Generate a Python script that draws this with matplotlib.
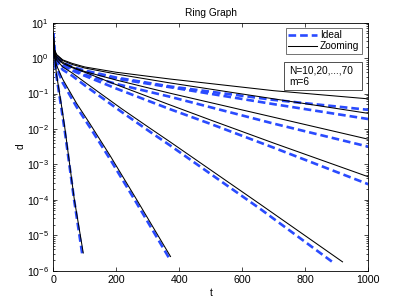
import matplotlib
matplotlib.use("Agg")
import matplotlib.pyplot as plt
from matplotlib.patches import Rectangle
from matplotlib.ticker import LogFormatterSciNotation, NullFormatter, LogLocator
import numpy as np

plt.rcParams['font.family'] = ['Liberation Sans', 'DejaVu Sans']
plt.rcParams['mathtext.fontset'] = 'custom'
plt.rcParams['mathtext.rm'] = 'Liberation Sans'

# N values
N_values = [10, 20, 30, 40, 50, 60, 70]

# Ideal curves: t and log10(d)
ideal_t = {
    10: [0, 3, 10, 27, 37, 66, 93],
    20: [0, 3, 10, 30, 74, 116, 180, 265, 370],
    30: [0, 3, 10, 30, 60, 100, 217, 307, 370, 656, 890],
    40: [0, 3, 10, 30, 60, 100, 200, 370, 500, 700, 1000],
    50: [0, 3, 10, 30, 60, 100, 200, 370, 700, 1000],
    60: [0, 3, 10, 30, 60, 100, 200, 370, 700, 1000],
    70: [0, 3, 10, 30, 60, 100, 200, 370, 700, 1000],
}
ideal_logd = {
    10: [0.55, 0.05, -0.5, -1.5, -2.1, -4.0, -5.6],
    20: [0.6, 0.1, -0.25, -0.7, -1.38, -1.95, -2.85, -4.1, -5.68],
    30: [0.65, 0.15, -0.1, -0.33, -0.5, -0.77, -1.52, -2.08, -2.46, -4.25, -5.78],
    40: [0.7, 0.15, -0.05, -0.22, -0.35, -0.5, -0.86, -1.44, -1.86, -2.53, -3.56],
    50: [0.7, 0.2, 0.0, -0.2, -0.33, -0.47, -0.73, -1.09, -1.85, -2.50],
    60: [0.7, 0.2, 0.05, -0.15, -0.28, -0.38, -0.58, -0.82, -1.30, -1.72],
    70: [0.7, 0.2, 0.05, -0.12, -0.25, -0.35, -0.55, -0.80, -1.18, -1.46],
}

# Zooming curves: t and log10(d)
zoom_t = {
    10: [0, 3, 10, 27, 37, 66, 95],
    20: [0, 3, 10, 30, 74, 116, 180, 265, 372],
    30: [0, 3, 10, 30, 60, 100, 217, 307, 370, 656, 918],
    40: [0, 3, 10, 30, 60, 100, 200, 370, 500, 700, 1000],
    50: [0, 3, 10, 30, 60, 100, 200, 370, 700, 1000],
    60: [0, 3, 10, 30, 60, 100, 200, 370, 700, 1000],
    70: [0, 3, 10, 30, 60, 100, 200, 370, 700, 1000],
}
zoom_logd = {
    10: [0.55, 0.1, -0.45, -1.4, -2.0, -3.95, -5.5],
    20: [0.6, 0.15, -0.2, -0.6, -1.28, -1.85, -2.75, -4.0, -5.6],
    30: [0.65, 0.2, -0.05, -0.25, -0.42, -0.68, -1.43, -1.98, -2.36, -4.12, -5.75],
    40: [0.7, 0.2, 0.0, -0.15, -0.27, -0.4, -0.75, -1.32, -1.75, -2.4, -3.35],
    50: [0.7, 0.25, 0.05, -0.12, -0.25, -0.38, -0.62, -0.99, -1.67, -2.29],
    60: [0.7, 0.25, 0.1, -0.07, -0.18, -0.28, -0.45, -0.70, -1.15, -1.56],
    70: [0.7, 0.25, 0.1, -0.05, -0.15, -0.25, -0.40, -0.59, -0.92, -1.15],
}

x_ticks = [0, 200, 400, 600, 800, 1000]
y_ticks = [1e-6, 1e-5, 1e-4, 1e-3, 1e-2, 1e-1, 1e0, 1e1]
FS = 7.3     # text size
TFS = 7.7    # tick label size

fig = plt.figure(figsize=(4.07, 3.06), dpi=100)
ax = fig.add_axes([0.131, 0.1154, 0.774, 0.8105])

blue = '#2a4bff'
for i, n in enumerate(N_values):
    ax.semilogy(ideal_t[n], 10.0 ** np.array(ideal_logd[n]), color=blue,
                linestyle=(0, (2.9, 1.5)), linewidth=1.9,
                label='Ideal' if i == 0 else None, zorder=2)
for i, n in enumerate(N_values):
    ax.semilogy(zoom_t[n], 10.0 ** np.array(zoom_logd[n]), color='black',
                linewidth=0.75, label='Zooming' if i == 0 else None, zorder=3)

ax.set_xlim(0, 1000)
ax.set_ylim(1e-6, 1e1)
ax.set_xticks(x_ticks)
ax.set_xticklabels([str(v) for v in x_ticks])
ax.set_yticks(y_ticks)
ax.yaxis.set_major_formatter(LogFormatterSciNotation())
ax.yaxis.set_minor_locator(LogLocator(base=10, subs=np.arange(2, 10)))
ax.yaxis.set_minor_formatter(NullFormatter())
ax.set_ylim(1e-6, 1e1)
ax.tick_params(axis='both', which='both', direction='in', top=True, right=True,
               labelsize=TFS, length=3, width=0.5, pad=3)
ax.tick_params(which='minor', length=1.6)
for s in ax.spines.values():
    s.set_linewidth(0.6)

ax.set_title('Ring Graph', fontsize=FS, pad=5)
ax.set_xlabel('t', fontsize=FS, labelpad=2)
ax.set_ylabel('d', fontsize=FS, labelpad=1)

leg = ax.legend(loc='upper right', fontsize=FS, handlelength=2.8,
                frameon=True, fancybox=False, borderpad=0.25,
                labelspacing=0.1, handletextpad=0.35, borderaxespad=0,
                bbox_to_anchor=(0.98, 0.979))
leg.get_frame().set_edgecolor('#333333')
leg.get_frame().set_linewidth(0.6)

ax.add_patch(Rectangle((0.732, 0.729), 0.248, 0.113, transform=ax.transAxes,
                       facecolor='white', edgecolor='#333333', linewidth=0.6,
                       zorder=5))
ax.text(0.748, 0.828, 'N=10,20,...,70\nm=6', transform=ax.transAxes,
        fontsize=FS, va='top', ha='left', linespacing=1.25, zorder=6)

fig.savefig('out.png', dpi=100)
